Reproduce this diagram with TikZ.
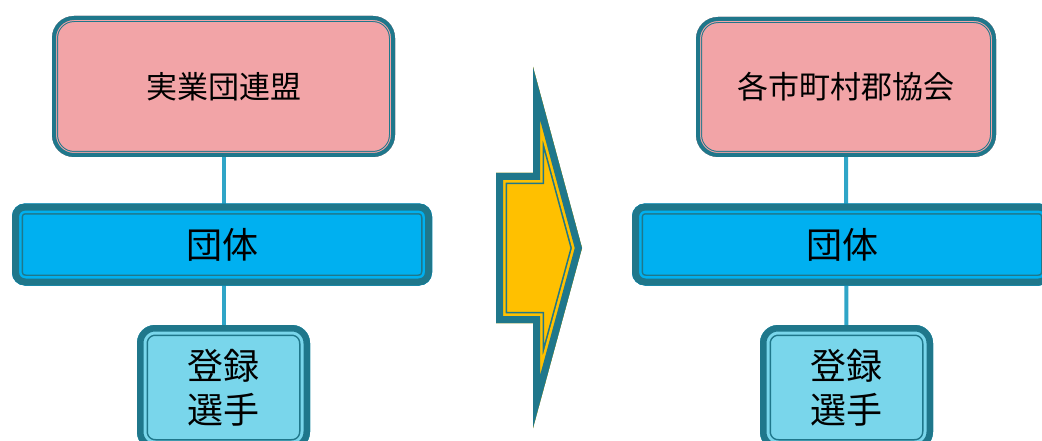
\documentclass[tikz,border=0pt]{standalone}
\usepackage{fontspec}
\newfontfamily\jp{Noto Sans CJK JP}
\usetikzlibrary{backgrounds}

\definecolor{edge}{RGB}{31,119,139}
\definecolor{linkcol}{RGB}{47,165,199}
\definecolor{pinkfill}{RGB}{242,164,167}
\definecolor{barfill}{RGB}{0,176,240}
\definecolor{regfill}{RGB}{121,214,235}
\definecolor{arrowfill}{RGB}{255,192,0}

\tikzset{
  % thick outer band, thin gap in the fill colour, thin inner line
  banded/.style n args={5}{
    rounded corners=#5, fill=#4, inner sep=0pt,
    path picture={
      \draw[edge, line width={2*(#1+#2+#3)}, rounded corners=#5]
        (path picture bounding box.south west) rectangle (path picture bounding box.north east);
      \draw[#4, line width={2*(#1+#2)}, rounded corners=#5]
        (path picture bounding box.south west) rectangle (path picture bounding box.north east);
      \draw[edge, line width={2*#1}, rounded corners=#5]
        (path picture bounding box.south west) rectangle (path picture bounding box.north east);
    }},
  headbox/.style={banded={4}{1}{1}{pinkfill}{22pt},
    font=\jp\fontsize{31}{37}\selectfont},
  groupbar/.style={banded={7}{2.5}{1.5}{barfill}{13pt},
    minimum width=420pt, minimum height=82pt,
    font=\jp\fontsize{36}{43}\selectfont},
  playerbox/.style={banded={6.5}{3}{1.5}{regfill}{18pt},
    minimum width=173pt, minimum height=125pt, align=center,
    font=\jp\fontsize{36}{44}\selectfont},
  link/.style={draw=linkcol, line width=4pt},
  arrowoutline/.style={insert path={(496,173) -- (533,173) -- (533,67) -- (582,248)
    -- (533,428) -- (533,323) -- (496,323) -- cycle}}
}

\begin{document}
\begin{tikzpicture}[x=1pt, y=-1pt]
\useasboundingbox (0,0) rectangle (1042,441);
\clip (0,0) rectangle (1042,441);

% left column
\node[headbox, minimum width=343pt, minimum height=141pt] (headL) at (223.5,86.5) {実業団連盟};
\node[groupbar] (barL) at (222,244.5) {団体};
\node[playerbox] (regL) at (223.5,387.5) {登録\\選手};

% right column
\node[headbox, minimum width=300pt, minimum height=140pt] (headR) at (846,87) {各市町村郡協会};
\node[groupbar] (barR) at (842,244.5) {団体};
\node[playerbox] (regR) at (846.5,387.5) {登録\\選手};

\begin{scope}[on background layer]
  \draw[link] (headL) -- (regL);
  \draw[link] (headR) -- (regR);
\end{scope}

% block arrow between the columns
\begin{scope}
  \clip[arrowoutline];
  \fill[arrowfill, arrowoutline];
  \draw[edge, line width=22.4pt, line join=miter, miter limit=30, arrowoutline];
  \draw[arrowfill, line width=19.2pt, line join=miter, miter limit=30, arrowoutline];
  \draw[edge, line width=14pt, line join=miter, miter limit=30, arrowoutline];
\end{scope}
\end{tikzpicture}
\end{document}
